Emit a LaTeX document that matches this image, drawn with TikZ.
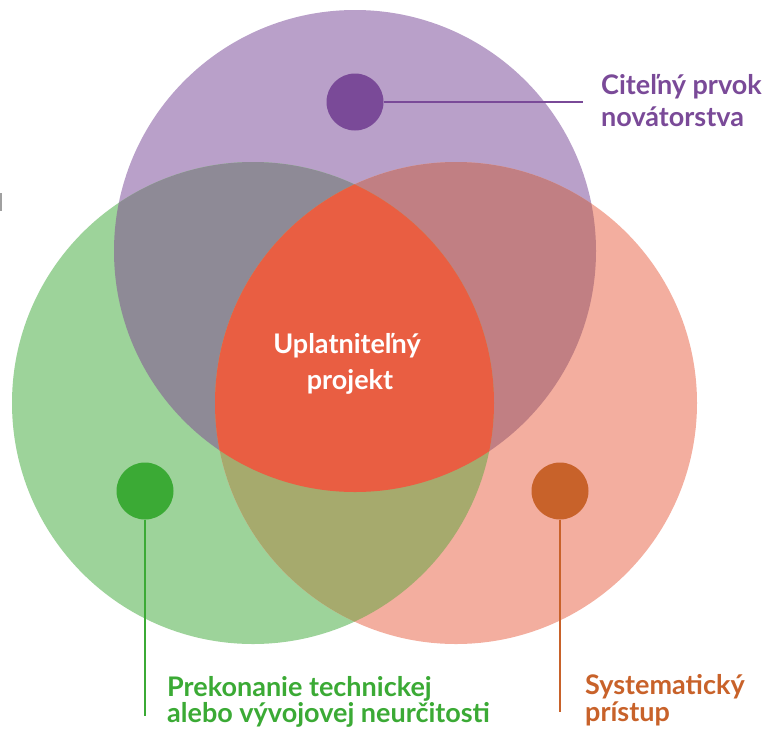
\documentclass[tikz,border=0pt]{standalone}
\usepackage{fontspec}
\setmainfont{Lato}
\definecolor{cP}{HTML}{B9A0C9}
\definecolor{cG}{HTML}{9DD39A}
\definecolor{cR}{HTML}{F3AE9F}
\definecolor{cPG}{HTML}{8E8A96}
\definecolor{cPR}{HTML}{C17F83}
\definecolor{cGR}{HTML}{A6AA6D}
\definecolor{cC}{HTML}{E95E42}
\definecolor{dP}{HTML}{7A4A98}
\definecolor{dG}{HTML}{3BAA35}
\definecolor{dO}{HTML}{C8622A}
\definecolor{edgemark}{HTML}{A0A0A0}
\begin{document}
\begin{tikzpicture}[x=1pt,y=-1pt,
  dot/.style={circle,minimum size=57pt,inner sep=0pt,draw=none},
  leader/.style={line width=2pt},
  lab/.style={anchor=base west,inner sep=0pt,font=\fontsize{27}{30}\selectfont\bfseries},
  ctr/.style={anchor=base,inner sep=0pt,text=white,font=\fontsize{27}{30}\selectfont\bfseries}]
\useasboundingbox (0,0) rectangle (769,729);
\def\CP{(355,251) circle[radius=241pt]}
\def\CG{(253,403) circle[radius=241pt]}
\def\CR{(456,403) circle[radius=241pt]}
% base circles
\fill[cP] \CP;
\fill[cG] \CG;
\fill[cR] \CR;
% pairwise overlaps
\begin{scope}\clip \CP; \fill[cPG] \CG; \end{scope}
\begin{scope}\clip \CP; \fill[cPR] \CR; \end{scope}
\begin{scope}\clip \CG; \fill[cGR] \CR; \end{scope}
% triple overlap
\begin{scope}\clip \CP; \clip \CG; \fill[cC] \CR; \end{scope}
% small mark at left edge
\fill[edgemark] (0,193) rectangle (1.5,211);
% dots and leaders
\node[dot,fill=dP] (pdot) at (355,102) {};
\node[dot,fill=dG] (gdot) at (145,491) {};
\node[dot,fill=dO] (odot) at (560,491) {};
\coordinate (pend) at (583,102);
\coordinate (gend) at (145,716);
\coordinate (oend) at (560,712);
\draw[leader,dP] (pdot.east) -- (pend);
\draw[leader,dG] (gdot.south) -- (gend);
\draw[leader,dO] (odot.south) -- (oend);
% labels
\node[lab,text=dP] (p1) at (601,94) {Citeľný prvok};
\node[lab,text=dP] (p2) at (601,126) {novátorstva};
\node[lab,text=dG] (g1) at (167,696) {Prekonanie technickej};
\node[lab,text=dG] (g2) at (167,722) {alebo vývojovej neurčitosti};
\node[lab,text=dO] (o1) at (585,694) {Systematický};
\node[lab,text=dO] (o2) at (585,721) {prístup};
\node[ctr] (c1) at (347,353) {Uplatniteľný};
\node[ctr] (c2) at (350,389) {projekt};
\end{tikzpicture}
\end{document}
